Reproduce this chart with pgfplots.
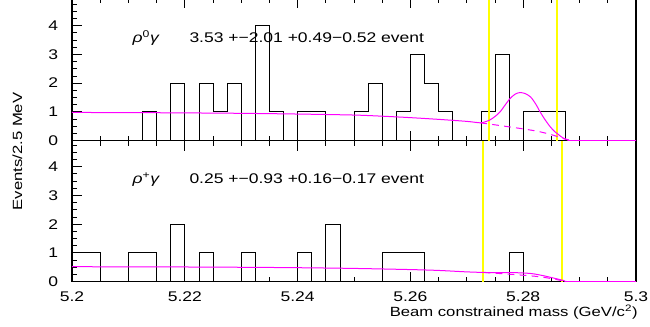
\documentclass[border=0pt]{standalone}
\usepackage{fontspec}
\setmainfont{Liberation Sans}[FakeStretch=1.25]
\usepackage{pgfplots}
\usepackage{pgfplotstable}
\pgfplotsset{compat=1.18}
\definecolor{pawmag}{rgb}{1,0,1}
\definecolor{pawyel}{rgb}{1,1,0}

\pgfplotstableread{
x y
5.2000 0
5.2025 0
5.2050 0
5.2075 0
5.2100 0
5.2125 1
5.2150 0
5.2175 2
5.2200 0
5.2225 2
5.2250 1
5.2275 2
5.2300 0
5.2325 4
5.2350 1
5.2375 0
5.2400 1
5.2425 1
5.2450 0
5.2475 0
5.2500 1
5.2525 2
5.2550 0
5.2575 1
5.2600 3
5.2625 2
5.2650 1
5.2675 0
5.2700 0
5.2725 1
5.2750 3
5.2775 0
5.2800 1
5.2825 1
5.2850 1
5.2875 0
5.2900 0
5.2925 0
5.2950 0
5.2975 0
5.3000 0
}\histtop

\pgfplotstableread{
x y
5.2000 1
5.2025 1
5.2050 0
5.2075 0
5.2100 1
5.2125 1
5.2150 0
5.2175 2
5.2200 0
5.2225 1
5.2250 0
5.2275 0
5.2300 1
5.2325 0
5.2350 0
5.2375 0
5.2400 1
5.2425 0
5.2450 2
5.2475 0
5.2500 0
5.2525 0
5.2550 1
5.2575 1
5.2600 1
5.2625 0
5.2650 0
5.2675 0
5.2700 0
5.2725 0
5.2750 0
5.2775 1
5.2800 0
5.2825 0
5.2850 0
5.2875 0
5.2900 0
5.2925 0
5.2950 0
5.2975 0
5.3000 0
}\histbot

\pgfplotstableread{
x y
5.2000 0.98
5.2100 0.975
5.2200 0.965
5.2300 0.95
5.2400 0.925
5.2500 0.89
5.2550 0.85
5.2600 0.80
5.2650 0.74
5.2700 0.67
5.2724 0.62
5.2733 0.66
5.2741 0.72
5.2750 0.84
5.2759 1.00
5.2768 1.24
5.2777 1.47
5.2786 1.62
5.2794 1.67
5.2803 1.64
5.2813 1.52
5.2822 1.28
5.2830 1.00
5.2839 0.72
5.2848 0.48
5.2855 0.33
5.2862 0.22
5.2871 0.09
5.2880 0.03
5.2890 0.0
5.3000 0.0
}\fittop

\pgfplotstableread{
x y
5.2724 0.62
5.2750 0.55
5.2775 0.48
5.2800 0.41
5.2825 0.33
5.2840 0.26
5.2855 0.18
5.2870 0.08
5.2880 0.02
5.2885 0.0
}\bgtop

\pgfplotstableread{
x y
5.2000 0.52
5.2100 0.515
5.2200 0.51
5.2300 0.50
5.2400 0.485
5.2500 0.46
5.2600 0.42
5.2650 0.39
5.2700 0.34
5.2730 0.32
5.2760 0.31
5.2790 0.31
5.2815 0.28
5.2835 0.21
5.2855 0.12
5.2872 0.04
5.2885 0.0
5.3000 0.0
}\fitbot

\pgfplotstableread{
x y
5.2730 0.32
5.2760 0.28
5.2790 0.24
5.2820 0.19
5.2840 0.14
5.2855 0.09
5.2870 0.03
5.2875 0.0
}\bgbot

\pgfplotsset{
  pawaxis/.style={
    scale only axis, width=423pt,
    xmin=5.2, xmax=5.3, ymin=0,
    xtick={5.2,5.22,5.24,5.26,5.28,5.3},
    minor x tick num=3,
    ytick={0,1,2,3,4},
    minor ytick={0,0.25,...,4.75},
    tick align=inside,
    xtick pos=both, ytick pos=left,
    major tick length=7.5pt, minor tick length=3.75pt,
    axis line style={line width=0.8pt},
    tick style={black, line width=0.6pt},
    every tick label/.append style={font=\fontsize{10.5}{12}\selectfont},
    /pgf/number format/.cd, fixed, precision=2, assume math mode=true,
  },
}

\begin{document}
\begin{tikzpicture}
\useasboundingbox (-54pt,-34pt) rectangle (433.5pt,211.25pt);

% ---------- bottom panel: rho+ gamma ----------
\begin{axis}[pawaxis, at={(0pt,0pt)}, anchor=south west,
  height=105.75pt, ymax=4.9,
  yticklabel style={xshift=-6.8pt},
  xticklabel style={yshift=-4.2pt},
  xlabel={Beam constrained mass (GeV/c\textsuperscript{2})},
  xlabel style={at={(rel axis cs:1,0)}, anchor=base east, yshift=-26pt, xshift=1.5pt,
    font=\fontsize{10}{12}\selectfont, inner sep=0pt},
]
\addplot[black, line width=0.6pt, const plot] table[x=x,y=y] {\histbot};
\addplot[pawyel, line width=1.5pt] coordinates {(5.2729,0) (5.2729,4.9)};
\addplot[pawyel, line width=1.5pt] coordinates {(5.2869,0) (5.2869,4.9)};
\addplot[pawmag, line width=0.75pt, dash pattern=on 5pt off 4pt] table[x=x,y=y] {\bgbot};
\addplot[pawmag, line width=0.75pt, smooth] table[x=x,y=y] {\fitbot};
\node[anchor=base west, font=\fontsize{10.5}{12}\selectfont] at (axis cs:5.2099,3.4)
  {\textit{ρ}\textsuperscript{+}\textit{γ}};
\node[anchor=base west, font=\fontsize{10.5}{12}\selectfont] at (axis cs:5.2200,3.4)
  {0.25 +−0.93 +0.16−0.17 event};
\end{axis}

% ---------- top panel: rho0 gamma ----------
\begin{axis}[pawaxis, at={(0pt,105.75pt)}, anchor=south west,
  height=106.85pt, ymax=4.951,
  xticklabels={},
  yticklabel style={xshift=-6.8pt},
]
\addplot[black, line width=0.6pt, const plot] table[x=x,y=y] {\histtop};
\addplot[pawyel, line width=1.5pt] coordinates {(5.2740,0) (5.2740,4.951)};
\addplot[pawyel, line width=1.5pt] coordinates {(5.2860,0) (5.2860,4.951)};
\addplot[pawmag, line width=0.75pt, dash pattern=on 5pt off 4pt] table[x=x,y=y] {\bgtop};
\addplot[pawmag, line width=0.75pt, smooth] table[x=x,y=y] {\fittop};
\node[anchor=base west, font=\fontsize{10.5}{12}\selectfont] at (axis cs:5.2099,3.41)
  {\textit{ρ}\textsuperscript{0}\textit{γ}};
\node[anchor=base west, font=\fontsize{10.5}{12}\selectfont] at (axis cs:5.2200,3.41)
  {3.53 +−2.01 +0.49−0.52 event};
\end{axis}

\node[rotate=90, font=\fontsize{10}{12}\selectfont] at (-40.9pt,97.6pt) {Events/2.5 MeV};
\end{tikzpicture}
\end{document}
